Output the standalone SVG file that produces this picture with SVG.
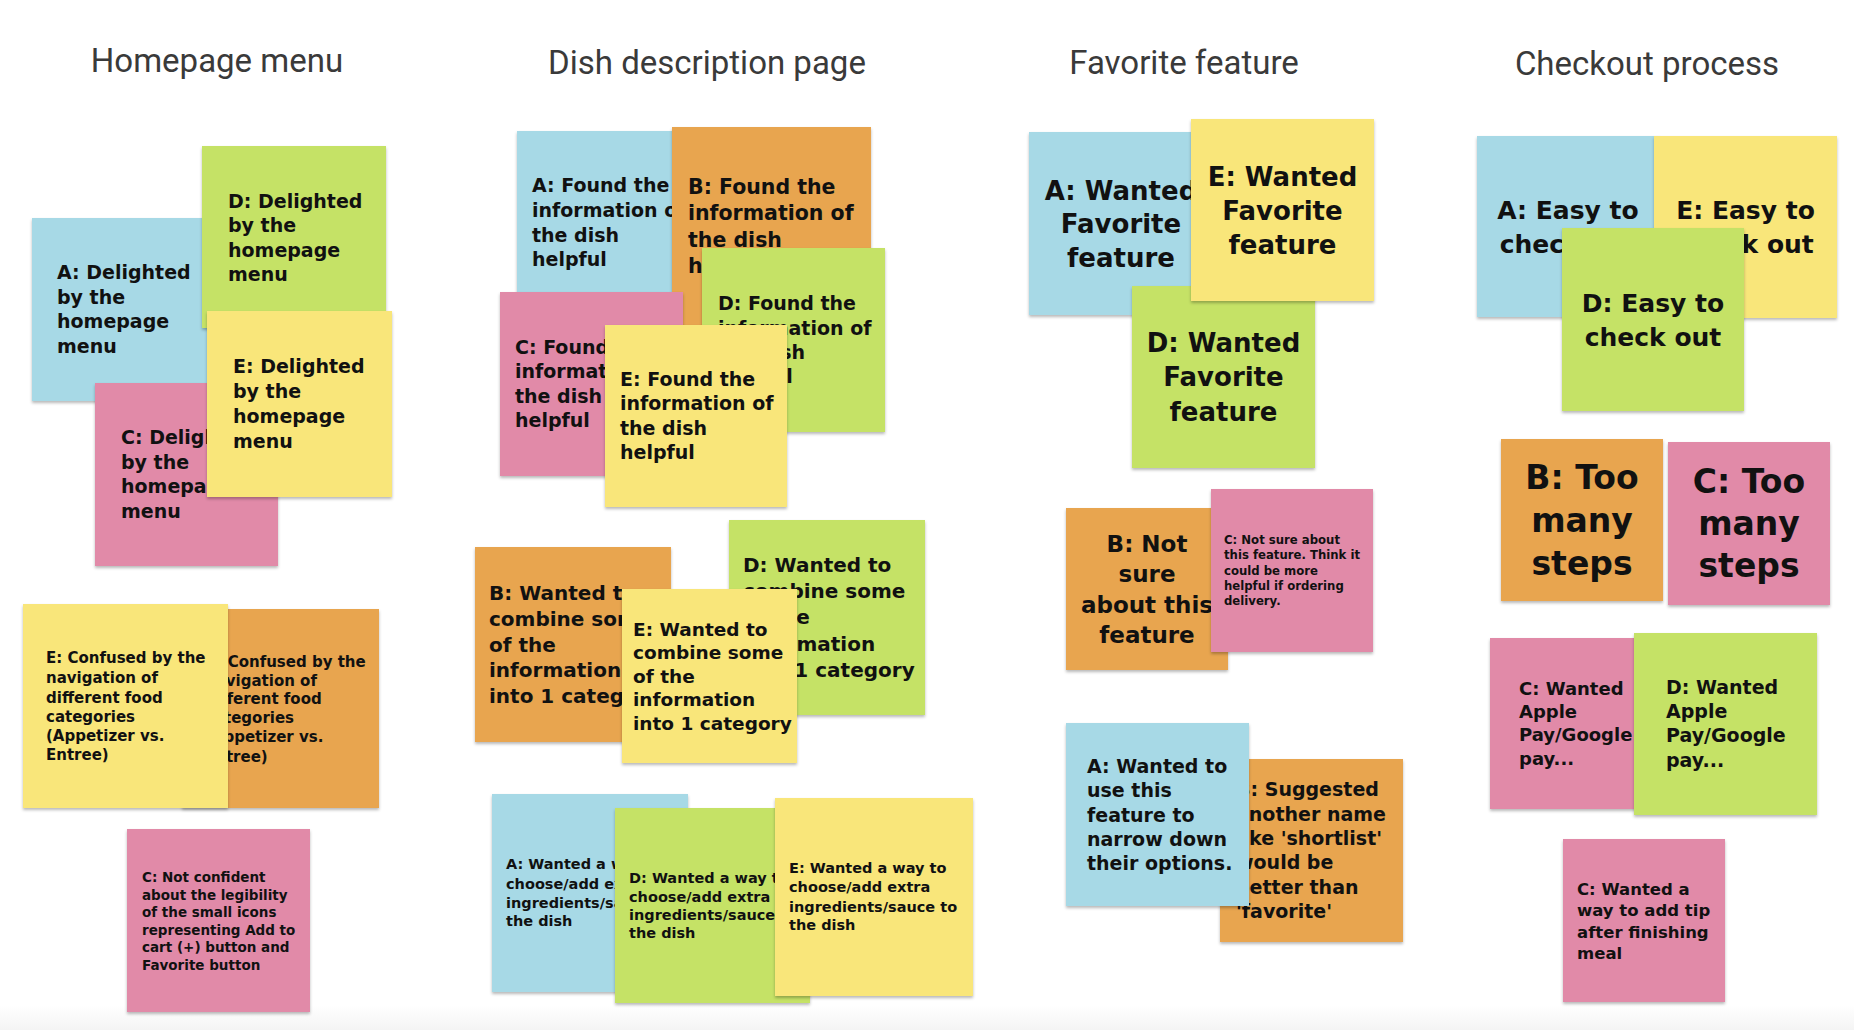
<svg xmlns="http://www.w3.org/2000/svg" width="1854" height="1030" viewBox="0 0 1854 1030">
<defs>
<filter id="sh" x="-5%" y="-5%" width="110%" height="115%">
<feDropShadow dx="0" dy="2" stdDeviation="1.5" flood-color="#000" flood-opacity="0.28"/>
</filter>
<linearGradient id="bot" x1="0" y1="0" x2="0" y2="1">
<stop offset="0" stop-color="#ffffff"/>
<stop offset="1" stop-color="#f4f4f4"/>
</linearGradient>
</defs>
<style>
.n{filter:url(#sh)}
.blue{fill:#a7d9e6}
.green{fill:#c5e266}
.yellow{fill:#f9e67a}
.pink{fill:#e18aa8}
.orange{fill:#e8a550}
.t{font-family:"DejaVu Sans","Liberation Sans",sans-serif;font-weight:bold;fill:#111}
.c{text-anchor:middle}
.title{font-family:Roboto,"Liberation Sans",sans-serif;font-size:33px;fill:#3a3a3a;text-anchor:middle}
</style>
<rect x="0" y="0" width="1854" height="1030" fill="#ffffff"/>
<rect x="0" y="1005" width="1854" height="25" fill="url(#bot)"/>

<g id="titles">
<text class="title" x="217" y="72">Homepage menu</text>
<text class="title" x="707" y="74">Dish description page</text>
<text class="title" x="1184" y="74">Favorite feature</text>
<text class="title" x="1647" y="75">Checkout process</text>
</g>

<g id="connectors"></g>

<!-- Homepage menu -->
<g id="hp-a"><rect class="n blue" x="32" y="218" width="184" height="183"/>
<text class="t" font-size="19"><tspan x="57" y="279">A: Delighted</tspan><tspan x="57" y="304">by the</tspan><tspan x="57" y="328">homepage</tspan><tspan x="57" y="353">menu</tspan></text></g>
<g id="hp-d"><rect class="n green" x="202" y="146" width="184" height="182"/>
<text class="t" font-size="19"><tspan x="228" y="208">D: Delighted</tspan><tspan x="228" y="232">by the</tspan><tspan x="228" y="257">homepage</tspan><tspan x="228" y="281">menu</tspan></text></g>
<g id="hp-c"><rect class="n pink" x="95" y="383" width="183" height="183"/>
<text class="t" font-size="19"><tspan x="121" y="444">C: Delighted</tspan><tspan x="121" y="469">by the</tspan><tspan x="121" y="493">homepage</tspan><tspan x="121" y="518">menu</tspan></text></g>
<g id="hp-e"><rect class="n yellow" x="207" y="311" width="185" height="186"/>
<text class="t" font-size="19"><tspan x="233" y="373">E: Delighted</tspan><tspan x="233" y="398">by the</tspan><tspan x="233" y="423">homepage</tspan><tspan x="233" y="448">menu</tspan></text></g>
<g id="hp-b2"><rect class="n orange" x="182" y="609" width="197" height="199"/>
<text class="t" font-size="15"><tspan x="205" y="667">B: Confused by the</tspan><tspan x="205" y="686">navigation of</tspan><tspan x="205" y="704">different food</tspan><tspan x="205" y="723">categories</tspan><tspan x="205" y="742">(Appetizer vs.</tspan><tspan x="205" y="762">Entree)</tspan></text></g>
<g id="hp-e2"><rect class="n yellow" x="23" y="604" width="205" height="204"/>
<text class="t" font-size="15"><tspan x="46" y="663">E: Confused by the</tspan><tspan x="46" y="683">navigation of</tspan><tspan x="46" y="703">different food</tspan><tspan x="46" y="722">categories</tspan><tspan x="46" y="741">(Appetizer vs.</tspan><tspan x="46" y="760">Entree)</tspan></text></g>
<g id="hp-c2"><rect class="n pink" x="127" y="829" width="183" height="183"/>
<text class="t" font-size="13.5"><tspan x="142" y="882">C: Not confident</tspan><tspan x="142" y="900">about the legibility</tspan><tspan x="142" y="917">of the small icons</tspan><tspan x="142" y="935">representing Add to</tspan><tspan x="142" y="952">cart (+) button and</tspan><tspan x="142" y="970">Favorite button</tspan></text></g>

<!-- Dish description page -->
<g id="dd-a"><rect class="n blue" x="517" y="131" width="185" height="185"/>
<text class="t" font-size="19"><tspan x="532" y="192">A: Found the</tspan><tspan x="532" y="217">information of</tspan><tspan x="532" y="242">the dish</tspan><tspan x="532" y="266">helpful</tspan></text></g>
<g id="dd-b"><rect class="n orange" x="672" y="127" width="199" height="199"/>
<text class="t" font-size="20.5"><tspan x="688" y="194">B: Found the</tspan><tspan x="688" y="220">information of</tspan><tspan x="688" y="247">the dish</tspan><tspan x="688" y="273">helpful</tspan></text></g>
<g id="dd-d"><rect class="n green" x="702" y="248" width="183" height="184"/>
<text class="t" font-size="19"><tspan x="718" y="310">D: Found the</tspan><tspan x="718" y="335">information of</tspan><tspan x="718" y="359">the dish</tspan><tspan x="718" y="383">helpful</tspan></text></g>
<g id="dd-c"><rect class="n pink" x="500" y="292" width="183" height="184"/>
<text class="t" font-size="19"><tspan x="515" y="354">C: Found the</tspan><tspan x="515" y="378">information of</tspan><tspan x="515" y="403">the dish</tspan><tspan x="515" y="427">helpful</tspan></text></g>
<g id="dd-e"><rect class="n yellow" x="605" y="325" width="182" height="182"/>
<text class="t" font-size="19"><tspan x="620" y="386">E: Found the</tspan><tspan x="620" y="410">information of</tspan><tspan x="620" y="435">the dish</tspan><tspan x="620" y="459">helpful</tspan></text></g>
<g id="dd-b2"><rect class="n orange" x="475" y="547" width="196" height="195"/>
<text class="t" font-size="20"><tspan x="489" y="600">B: Wanted to</tspan><tspan x="489" y="626">combine some</tspan><tspan x="489" y="652">of the</tspan><tspan x="489" y="677">information</tspan><tspan x="489" y="703">into 1 category</tspan></text></g>
<g id="dd-d2"><rect class="n green" x="729" y="520" width="196" height="195"/>
<text class="t" font-size="20"><tspan x="743" y="572">D: Wanted to</tspan><tspan x="743" y="598">combine some</tspan><tspan x="743" y="624">of the</tspan><tspan x="743" y="651">information</tspan><tspan x="743" y="677">into 1 category</tspan></text></g>
<g id="dd-e2"><rect class="n yellow" x="622" y="589" width="175" height="174"/>
<text class="t" font-size="18.5"><tspan x="633" y="636">E: Wanted to</tspan><tspan x="633" y="659">combine some</tspan><tspan x="633" y="683">of the</tspan><tspan x="633" y="706">information</tspan><tspan x="633" y="730">into 1 category</tspan></text></g>
<g id="dd-a3"><rect class="n blue" x="492" y="794" width="196" height="198"/>
<text class="t" font-size="14.5"><tspan x="506" y="869">A: Wanted a way to</tspan><tspan x="506" y="889">choose/add extra</tspan><tspan x="506" y="908">ingredients/sauce to</tspan><tspan x="506" y="926">the dish</tspan></text></g>
<g id="dd-d3"><rect class="n green" x="615" y="808" width="195" height="195"/>
<text class="t" font-size="14.5"><tspan x="629" y="883">D: Wanted a way to</tspan><tspan x="629" y="902">choose/add extra</tspan><tspan x="629" y="920">ingredients/sauce to</tspan><tspan x="629" y="938">the dish</tspan></text></g>
<g id="dd-e3"><rect class="n yellow" x="775" y="798" width="198" height="198"/>
<text class="t" font-size="14.5"><tspan x="789" y="873">E: Wanted a way to</tspan><tspan x="789" y="892">choose/add extra</tspan><tspan x="789" y="912">ingredients/sauce to</tspan><tspan x="789" y="930">the dish</tspan></text></g>

<!-- Favorite feature -->
<g id="ff-a"><rect class="n blue" x="1029" y="132" width="184" height="183"/>
<text class="t c" font-size="26"><tspan x="1121" y="200">A: Wanted</tspan><tspan x="1121" y="233">Favorite</tspan><tspan x="1121" y="267">feature</tspan></text></g>
<g id="ff-d"><rect class="n green" x="1132" y="286" width="183" height="182"/>
<text class="t c" font-size="26"><tspan x="1223.5" y="352">D: Wanted</tspan><tspan x="1223.5" y="386">Favorite</tspan><tspan x="1223.5" y="421">feature</tspan></text></g>
<g id="ff-e"><rect class="n yellow" x="1191" y="119" width="183" height="182"/>
<text class="t c" font-size="26"><tspan x="1282.5" y="186">E: Wanted</tspan><tspan x="1282.5" y="220">Favorite</tspan><tspan x="1282.5" y="254">feature</tspan></text></g>
<g id="ff-b"><rect class="n orange" x="1066" y="508" width="162" height="162"/>
<text class="t c" font-size="23"><tspan x="1147" y="552">B: Not</tspan><tspan x="1147" y="582">sure</tspan><tspan x="1147" y="613">about this</tspan><tspan x="1147" y="643">feature</tspan></text></g>
<g id="ff-c"><rect class="n pink" x="1211" y="489" width="162" height="163"/>
<text class="t" font-size="11.7"><tspan x="1224" y="544">C: Not sure about</tspan><tspan x="1224" y="559">this feature. Think it</tspan><tspan x="1224" y="575">could be more</tspan><tspan x="1224" y="590">helpful if ordering</tspan><tspan x="1224" y="605">delivery.</tspan></text></g>
<g id="ff-b2"><rect class="n orange" x="1220" y="759" width="183" height="183"/>
<text class="t" font-size="19"><tspan x="1236" y="796">B: Suggested</tspan><tspan x="1236" y="821">another name</tspan><tspan x="1236" y="845">like 'shortlist'</tspan><tspan x="1236" y="869">would be</tspan><tspan x="1236" y="894">better than</tspan><tspan x="1236" y="918">'favorite'</tspan></text></g>
<g id="ff-a2"><rect class="n blue" x="1066" y="723" width="183" height="183"/>
<text class="t" font-size="19"><tspan x="1087" y="773">A: Wanted to</tspan><tspan x="1087" y="797">use this</tspan><tspan x="1087" y="822">feature to</tspan><tspan x="1087" y="846">narrow down</tspan><tspan x="1087" y="870">their options.</tspan></text></g>

<!-- Checkout process -->
<g id="co-a"><rect class="n blue" x="1477" y="136" width="183" height="181"/>
<text class="t c" font-size="25"><tspan x="1568" y="219">A: Easy to</tspan><tspan x="1568" y="253">check out</tspan></text></g>
<g id="co-e"><rect class="n yellow" x="1654" y="136" width="183" height="182"/>
<text class="t c" font-size="25"><tspan x="1745.5" y="219">E: Easy to</tspan><tspan x="1745.5" y="253">check out</tspan></text></g>
<g id="co-d"><rect class="n green" x="1562" y="228" width="182" height="183"/>
<text class="t c" font-size="25"><tspan x="1653" y="312">D: Easy to</tspan><tspan x="1653" y="346">check out</tspan></text></g>
<g id="co-b"><rect class="n orange" x="1501" y="439" width="162" height="162"/>
<text class="t c" font-size="33"><tspan x="1582" y="489">B: Too</tspan><tspan x="1582" y="532">many</tspan><tspan x="1582" y="575">steps</tspan></text></g>
<g id="co-c"><rect class="n pink" x="1668" y="442" width="162" height="163"/>
<text class="t c" font-size="33"><tspan x="1749" y="493">C: Too</tspan><tspan x="1749" y="535">many</tspan><tspan x="1749" y="577">steps</tspan></text></g>
<g id="co-c2"><rect class="n pink" x="1490" y="638" width="166" height="171"/>
<text class="t" font-size="18"><tspan x="1519" y="695">C: Wanted</tspan><tspan x="1519" y="718">Apple</tspan><tspan x="1519" y="741">Pay/Google</tspan><tspan x="1519" y="765">pay...</tspan></text></g>
<g id="co-d2"><rect class="n green" x="1634" y="633" width="183" height="182"/>
<text class="t" font-size="19"><tspan x="1666" y="694">D: Wanted</tspan><tspan x="1666" y="718">Apple</tspan><tspan x="1666" y="742">Pay/Google</tspan><tspan x="1666" y="767">pay...</tspan></text></g>
<g id="co-c3"><rect class="n pink" x="1563" y="839" width="162" height="163"/>
<text class="t" font-size="16.5"><tspan x="1577" y="895">C: Wanted a</tspan><tspan x="1577" y="916">way to add tip</tspan><tspan x="1577" y="938">after finishing</tspan><tspan x="1577" y="959">meal</tspan></text></g>
</svg>
